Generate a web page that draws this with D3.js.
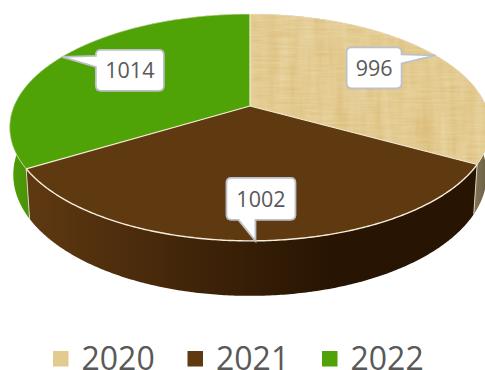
<!DOCTYPE html>
<html><head><meta charset="utf-8">
<script src="https://cdn.jsdelivr.net/npm/d3@7"></script>
<style>html,body{margin:0;padding:0;background:#fff;overflow:hidden}svg{display:block}text{font-family:"Open Sans",sans-serif;fill:#595959}</style>
</head><body><svg id="c" width="485" height="370"></svg>
<script>
const categories = ["2020","2021","2022"];
const values = [996,1002,1014];
const topColors = ["#e3cb90","#5f3a10","#4fa307"];
const sideStops = [["#8a7c5a","#6f6347"],["#5e3811","#271402"],["#4f9f07","#468f06"]];
const boxOffsets = [[-89,-8,55,41],[-29,-63,69,42],[34,-7,68,41]];

const W=485,H=370,cx=250,R=236,b=106,a=89.35,c=-0.189;
const svg=d3.select("#c");
const defs=svg.append("defs");
const f=defs.append("filter").attr("id","papyrus").attr("x",0).attr("y",0).attr("width",1).attr("height",1)
  .attr("color-interpolation-filters","sRGB");
f.append("feTurbulence").attr("type","fractalNoise").attr("baseFrequency","0.09 0.012").attr("numOctaves",3).attr("seed",7).attr("result","n1");
f.append("feTurbulence").attr("type","fractalNoise").attr("baseFrequency","0.03 0.45").attr("numOctaves",2).attr("seed",3).attr("result","n2");
f.append("feComposite").attr("in","n1").attr("in2","n2").attr("operator","arithmetic")
  .attr("k1",0).attr("k2",0.6).attr("k3",0.4).attr("k4",0).attr("result","n");
f.append("feColorMatrix").attr("in","n").attr("type","matrix")
 .attr("values","0.09 0 0 0 0.845  0.17 0 0 0 0.71  0.28 0 0 0 0.43  0 0 0 0 1").attr("result","col");
f.append("feComposite").attr("in","col").attr("in2","SourceGraphic").attr("operator","in");

const proj=t=>{const u=Math.sin(t),v=-Math.cos(t),w=1+c*v;return [cx+R*u/w,(b+a*v)/w];};
const lower=([x,y])=>[cx+(x-cx)*0.985,y+50+0.0685*(y-168)];
const arcs=d3.pie().sort(null).value(d=>d)(values);
const samples=(s,e)=>{const n=Math.ceil((e-s)/0.01);return d3.range(n+1).map(i=>s+(e-s)*i/n);};
const line=d3.line();

// sides
arcs.forEach((d,i)=>{
  const id="side"+i;
  const g=defs.append("linearGradient").attr("id",id).attr("gradientUnits","userSpaceOnUse")
    .attr("x1",i===1?32:(i===2?10:470)).attr("x2",i===1?330:(i===2?35:485)).attr("y1",0).attr("y2",0);
  g.append("stop").attr("offset",0).attr("stop-color",sideStops[i][0]);
  g.append("stop").attr("offset",1).attr("stop-color",sideStops[i][1]);
  const up=samples(d.startAngle,d.endAngle).map(proj);
  svg.append("path").attr("d",line(up.concat(up.map(lower).reverse()))+"Z").attr("fill",`url(#${id})`);
});
// side separators
arcs.forEach(d=>{
  const p=proj(d.startAngle);
  if(d.index===0) return;
  svg.append("line").attr("x1",p[0]).attr("y1",p[1]).attr("x2",lower(p)[0]).attr("y2",lower(p)[1])
    .attr("stroke","#d9d2bd").attr("stroke-width",1);
});
// top faces
arcs.forEach((d,i)=>{
  const pts=[[cx,b]].concat(samples(d.startAngle,d.endAngle).map(proj));
  svg.append("path").attr("d",line(pts)+"Z").attr("fill",topColors[i])
    .attr("filter",i===0?"url(#papyrus)":null);
});
// edges
arcs.forEach(d=>{
  const e=proj(d.startAngle);
  svg.append("line").attr("x1",cx).attr("y1",b).attr("x2",e[0]).attr("y2",e[1])
    .attr("stroke","#f3ead2").attr("stroke-width",1.2);
  svg.append("path").attr("d",line(samples(d.startAngle,d.endAngle).map(proj))).attr("fill","none")
    .attr("stroke","#f6eedb").attr("stroke-width",d.index===1?1.4:0.6);
});
// callouts
arcs.forEach((d,i)=>{
  const tip=proj((d.startAngle+d.endAngle)/2);
  const [ox,oy,w,h]=boxOffsets[i];
  const x=tip[0]+ox,y=tip[1]+oy,r=5;
  const path=d3.path();
  path.moveTo(x+r,y);
  path.lineTo(x+w-r,y);path.quadraticCurveTo(x+w,y,x+w,y+r);
  if(i===0){path.lineTo(x+w,y+7);path.lineTo(tip[0],tip[1]);path.lineTo(x+w,y+16);}
  path.lineTo(x+w,y+h-r);path.quadraticCurveTo(x+w,y+h,x+w-r,y+h);
  if(i===1){path.lineTo(x+29,y+h);path.lineTo(tip[0],tip[1]);path.lineTo(x+12,y+h);}
  path.lineTo(x+r,y+h);path.quadraticCurveTo(x,y+h,x,y+h-r);
  if(i===2){path.lineTo(x,y+17);path.lineTo(tip[0],tip[1]);path.lineTo(x,y+6);}
  path.lineTo(x,y+r);path.quadraticCurveTo(x,y,x+r,y);path.closePath();
  svg.append("path").attr("d",path.toString()).attr("fill","#fff").attr("stroke","#bcc0c8").attr("stroke-width",1.8);
  svg.append("text").attr("x",x+w/2).attr("y",y+h/2+7.8).attr("text-anchor","middle").attr("font-size",21.5).text(values[i]);
});
// legend
const lx=d3.scalePoint().domain(categories).range([53,322]);
categories.forEach((k,i)=>{
  svg.append("rect").attr("x",lx(k)).attr("y",351).attr("width",15.5).attr("height",15.5).attr("fill",topColors[i]);
  svg.append("text").attr("x",lx(k)+28.5).attr("y",370).attr("font-size",32).text(k);
});
</script></body></html>
